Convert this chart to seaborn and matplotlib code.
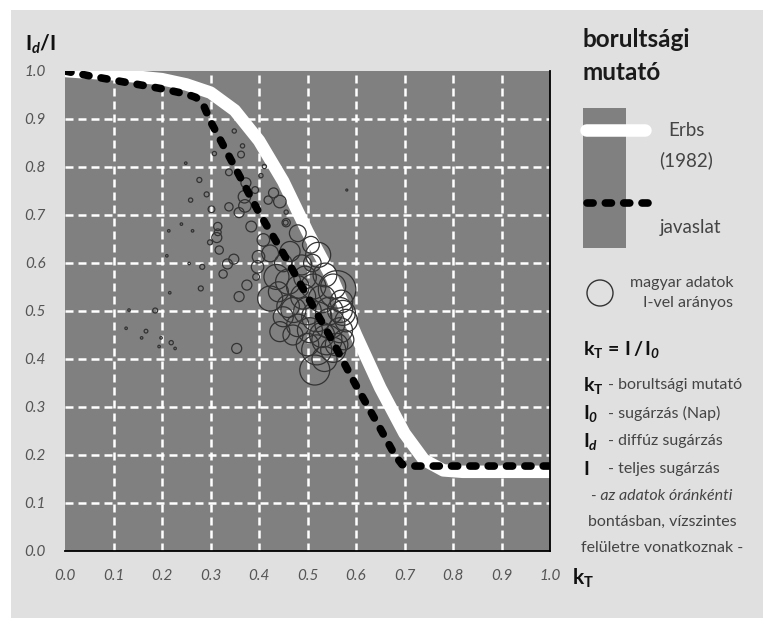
import numpy as np
import pandas as pd
import matplotlib
matplotlib.use("Agg")
import matplotlib.pyplot as plt
from matplotlib.patches import Rectangle, Circle
import seaborn as sns

# Erbs et al. (1982) diffuse fraction curve, Id/I against kT
erbs_kt = [0.0, 0.1, 0.2, 0.25, 0.3, 0.35, 0.4, 0.45, 0.5, 0.55, 0.6, 0.65,
           0.7, 0.74, 0.78, 0.82, 0.9, 1.0]
erbs_ratio = [1.0, 0.993, 0.983, 0.972, 0.955, 0.918, 0.855, 0.77, 0.665, 0.57,
              0.45, 0.34, 0.245, 0.19, 0.168, 0.165, 0.165, 0.165]

# proposed curve (javaslat)
prop_kt = [0.0, 0.05, 0.1, 0.15, 0.2, 0.25, 0.27, 0.285, 0.3, 0.35, 0.4, 0.45,
           0.5, 0.55, 0.6, 0.65, 0.68, 0.695, 0.72, 0.8, 0.9, 1.0]
prop_ratio = [1.0, 0.99, 0.981, 0.972, 0.963, 0.952, 0.945, 0.93, 0.895, 0.8,
              0.705, 0.62, 0.53, 0.44, 0.345, 0.255, 0.2, 0.18, 0.177, 0.177,
              0.177, 0.177]

# Hungarian hourly observations: kT, Id/I and global radiation I (W/m2)
obs_kt = [0.126, 0.158, 0.167, 0.194, 0.219, 0.227, 0.132, 0.186, 0.198, 0.21,
          0.216, 0.24, 0.214, 0.263, 0.249, 0.256, 0.581,
          0.349, 0.366, 0.308, 0.363, 0.411, 0.338, 0.404, 0.277, 0.373, 0.392,
          0.37, 0.292, 0.259, 0.43, 0.443, 0.419, 0.338, 0.371, 0.302, 0.359,
          0.456, 0.456, 0.455, 0.384, 0.315, 0.315, 0.48, 0.313, 0.299, 0.409,
          0.507, 0.423, 0.318, 0.399, 0.348, 0.335, 0.283, 0.397, 0.326, 0.394,
          0.375, 0.28, 0.359, 0.354,
          0.464, 0.488, 0.536, 0.553, 0.436, 0.46, 0.512, 0.423, 0.491, 0.567,
          0.471, 0.519, 0.546, 0.505, 0.567, 0.54, 0.519, 0.553, 0.515, 0.45,
          0.443, 0.561, 0.522, 0.53, 0.48, 0.5, 0.48, 0.53, 0.56, 0.5, 0.47,
          0.535, 0.57, 0.51, 0.45, 0.44, 0.46, 0.495, 0.545, 0.58, 0.575, 0.573]
obs_ratio = [0.464, 0.444, 0.458, 0.426, 0.434, 0.422, 0.502, 0.501, 0.444, 0.615,
             0.538, 0.681, 0.667, 0.667, 0.808, 0.599, 0.752,
             0.875, 0.844, 0.828, 0.826, 0.801, 0.789, 0.782, 0.773, 0.767, 0.752,
             0.738, 0.743, 0.731, 0.746, 0.728, 0.731, 0.717, 0.719, 0.712, 0.705,
             0.706, 0.684, 0.684, 0.676, 0.676, 0.664, 0.662, 0.653, 0.643, 0.648,
             0.638, 0.62, 0.627, 0.613, 0.608, 0.598, 0.592, 0.592, 0.577, 0.571,
             0.554, 0.547, 0.53, 0.422,
             0.624, 0.596, 0.575, 0.551, 0.571, 0.561, 0.551, 0.526, 0.53, 0.502,
             0.502, 0.488, 0.474, 0.46, 0.46, 0.44, 0.419, 0.419, 0.377, 0.488,
             0.457, 0.545, 0.617, 0.525, 0.55, 0.5, 0.47, 0.45, 0.43, 0.43, 0.45,
             0.4, 0.52, 0.6, 0.6, 0.54, 0.51, 0.57, 0.5, 0.48, 0.44, 0.496]
obs_I = [50, 50, 75, 50, 85, 50, 50, 100, 50, 50,
         50, 50, 50, 50, 50, 50, 40,
         85, 85, 85, 135, 85, 135, 85, 100, 200, 135,
         250, 100, 85, 200, 250, 165, 165, 250, 135, 200,
         85, 165, 100, 215, 165, 135, 335, 200, 100, 250,
         335, 335, 165, 250, 200, 200, 100, 250, 165, 135,
         200, 100, 200, 200,
         400, 400, 475, 500, 500, 500, 500, 500, 500, 500,
         500, 600, 600, 500, 500, 600, 600, 500, 600, 400,
         400, 750, 500, 550, 450, 550, 450, 500, 450, 450, 400,
         500, 450, 350, 350, 400, 450, 450, 550, 450, 400, 500]

tick_values = [0.0, 0.1, 0.2, 0.3, 0.4, 0.5, 0.6, 0.7, 0.8, 0.9, 1.0]
tick_labels = ["0.0", "0.1", "0.2", "0.3", "0.4", "0.5", "0.6", "0.7", "0.8",
               "0.9", "1.0"]

FONT = ["Lato", "DejaVu Sans"]
sns.set_style("white")
plt.rcParams["font.family"] = FONT
plt.rcParams["mathtext.fontset"] = "custom"
plt.rcParams["mathtext.rm"] = "Lato"
plt.rcParams["mathtext.it"] = "Lato:italic"
plt.rcParams["mathtext.bf"] = "Lato:bold"
plt.rcParams["mathtext.bfit"] = "Lato:bold:italic"

W, H = 766, 618
fig = plt.figure(figsize=(W / 100, H / 100), dpi=100, facecolor="white")

# background panel in pixel coordinates
bg = fig.add_axes([0, 0, 1, 1], zorder=-1)
bg.set_xlim(0, W)
bg.set_ylim(H, 0)
bg.axis("off")
bg.add_patch(Rectangle((11, 10), 752, 610, facecolor="#e0e0e0", edgecolor="none"))

ax = fig.add_axes([65 / W, 1 - 551 / H, 485 / W, 480 / H])
ax.set_facecolor("#808080")
ax.set_xlim(0, 1)
ax.set_ylim(0, 1)
for side in ["top", "left"]:
    ax.spines[side].set_visible(False)
for side in ["bottom", "right"]:
    ax.spines[side].set_color("black")
    ax.spines[side].set_linewidth(1.3)

for v in tick_values[1:-1]:
    ax.axvline(v, color="white", lw=1.8, ls=(0, (3.2, 2.0)), zorder=1)
    ax.axhline(v, color="white", lw=1.8, ls=(0, (3.2, 2.0)), zorder=1)

ax.set_xticks(tick_values)
ax.set_xticklabels(tick_labels)
ax.set_yticks(tick_values)
ax.set_yticklabels(tick_labels)
ax.tick_params(axis="x", length=0, pad=13, labelsize=11, labelcolor="#555555")
ax.tick_params(axis="y", length=0, pad=14, labelsize=11, labelcolor="#555555")
for lab in ax.get_xticklabels() + ax.get_yticklabels():
    lab.set_fontstyle("italic")

erbs = pd.DataFrame({"kT": erbs_kt, "ratio": erbs_ratio})
prop = pd.DataFrame({"kT": prop_kt, "ratio": prop_ratio})
obs = pd.DataFrame({"kT": obs_kt, "ratio": obs_ratio, "I": obs_I})

sns.lineplot(data=erbs, x="kT", y="ratio", color="white", lw=9,
             solid_capstyle="round", solid_joinstyle="round", ax=ax, zorder=2)

# circle diameter proportional to I
diam_pt = obs["I"].to_numpy() * 0.036
sns.scatterplot(data=obs, x="kT", y="ratio", s=diam_pt ** 2, marker="o",
                facecolor="none", edgecolor="#333333", linewidth=0.9,
                legend=False, ax=ax, zorder=3)

sns.lineplot(data=prop, x="kT", y="ratio", color="black", lw=5.5,
             linestyle=(0, (0.8, 1.6)), dash_capstyle="round", ax=ax, zorder=4)
ax.set_xlabel("")
ax.set_ylabel("")

# axis titles
bg.text(25, 44, r"$\mathbf{I}_{\mathbfit{d}}\mathbf{/I}$", fontsize=15,
        ha="left", va="center", color="#111111")
bg.text(572, 578, r"$\mathbf{k}_{\mathbf{T}}$", fontsize=15, ha="left",
        va="center", color="#111111")

# legend panel
bg.text(583, 47, "borultsági", fontsize=17.5, fontweight="bold", ha="left",
        va="baseline", color="#1a1a1a")
bg.text(583, 80, "mutató", fontsize=17.5, fontweight="bold", ha="left",
        va="baseline", color="#1a1a1a")
bg.add_patch(Rectangle((583, 108), 43, 140, facecolor="#808080", edgecolor="none"))
bg.plot([586, 645], [130, 130], color="white", lw=9, solid_capstyle="round")
bg.plot([587, 648], [203, 203], color="black", lw=5.5, linestyle=(0, (0.8, 1.6)),
        dash_capstyle="round")
bg.text(686, 130, "Erbs", fontsize=13.5, ha="center", va="center", color="#444444")
bg.text(686, 160, "(1982)", fontsize=13.5, ha="center", va="center", color="#444444")
bg.text(690, 227, "javaslat", fontsize=13.5, ha="center", va="center", color="#444444")

bg.add_patch(Circle((600, 293), 13, facecolor="none", edgecolor="#333333", lw=1))
bg.text(733, 283, "magyar adatok", fontsize=11.5, ha="right", va="center",
        color="#444444")
bg.text(733, 303, "I-vel arányos", fontsize=11.5, ha="right", va="center",
        color="#444444")

bg.text(583, 350, r"$\mathbf{k}_{\mathbf{T}}\mathbf{\,=\,I\,/\,I}_{\mathbfit{0}}$",
        fontsize=14, ha="left", va="center", color="#111111")
sym = [r"$\mathbf{k}_{\mathbf{T}}$", r"$\mathbf{I}_{\mathbfit{0}}$",
       r"$\mathbf{I}_{\mathbfit{d}}$", r"$\mathbf{I}$"]
desc = ["- borultsági mutató", "- sugárzás (Nap)", "- diffúz sugárzás",
        "- teljes sugárzás"]
for i, (s_, d_) in enumerate(zip(sym, desc)):
    y = 385 + i * 28
    bg.text(583, y, s_, fontsize=14, ha="left", va="center", color="#111111")
    bg.text(608, y, d_, fontsize=11.5, ha="left", va="center", color="#444444")

notes = ["- az adatok óránkénti", "bontásban, vízszintes",
         "felületre vonatkoznak -"]
for i, n in enumerate(notes):
    bg.text(662, 496 + i * 26, n, fontsize=11.5, ha="center", va="center",
            color="#444444", fontstyle="italic" if i == 0 else "normal")

fig.savefig("out.png", dpi=100, facecolor="white")
